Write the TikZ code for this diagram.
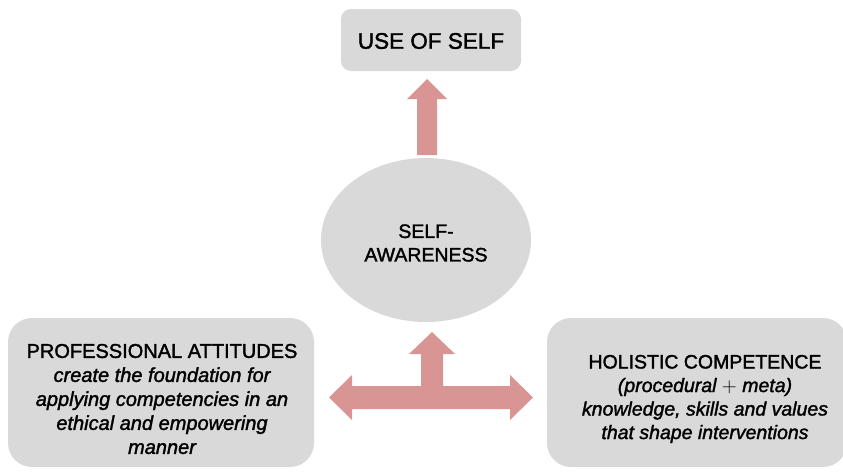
\documentclass[tikz,border=0pt]{standalone}
\usepackage{fontspec}
\setmainfont{Liberation Sans}[FakeBold=1.6]
\usetikzlibrary{shapes.geometric}
\definecolor{boxgray}{RGB}{217,217,217}
\definecolor{arrowpink}{RGB}{217,149,148}
\begin{document}
\begin{tikzpicture}[x=1pt,y=-1pt,
  panel/.style={fill=boxgray,draw=none,rounded corners=#1,inner sep=0pt},
  label/.style={align=center,inner sep=0pt,text=black,font=\fontsize{19.5}{23.5}\selectfont},
  blockarrow/.style={fill=arrowpink,draw=none}]
\useasboundingbox (0,0) rectangle (843,472);

% boxes
\node[panel=10pt,minimum width=180pt,minimum height=62pt] (use) at (431,40) {};
\node[label,font=\fontsize{22.5}{26}\selectfont] (usetext) at (431,41) {USE OF SELF};

\node[ellipse,fill=boxgray,inner sep=0pt,minimum width=210pt,minimum height=164pt] (aware) at (426,240) {};
\node[label,font=\fontsize{19.5}{23.5}\selectfont] (awaretext) at (426,243) {SELF-\\AWARENESS};

\node[panel=24pt,minimum width=306pt,minimum height=149pt] (prof) at (161,392.5) {};
\node[label,font=\fontsize{20}{24}\selectfont] (proftext) at (162,399) {PROFESSIONAL ATTITUDES\\
  \itshape create the foundation for\\
  \itshape applying competencies in an\\
  \itshape ethical and empowering\\
  \itshape manner};

\node[panel=24pt,minimum width=300pt,minimum height=149pt] (hol) at (697,392.5) {};
\node[label] (holtext) at (705,399) {HOLISTIC COMPETENCE\\
  \itshape (procedural $+$ meta)\\
  \itshape knowledge, skills and values\\
  \itshape that shape interventions};

% arrow from self-awareness up to use of self
\fill[blockarrow] (417,155) -- (417,99) -- (407,99) -- (427,79) -- (447,99)
  -- (437,99) -- (437,155) -- cycle;

% three-way arrow between the lower boxes and self-awareness
\fill[blockarrow] (329,397.5) -- (352,375) -- (352,386) -- (421,386) -- (421,354)
  -- (409,354) -- (432,332) -- (455,354) -- (443,354) -- (443,386) -- (510,386)
  -- (510,375) -- (533,397.5) -- (510,420) -- (510,409) -- (352,409) -- (352,420)
  -- cycle;
\end{tikzpicture}
\end{document}
